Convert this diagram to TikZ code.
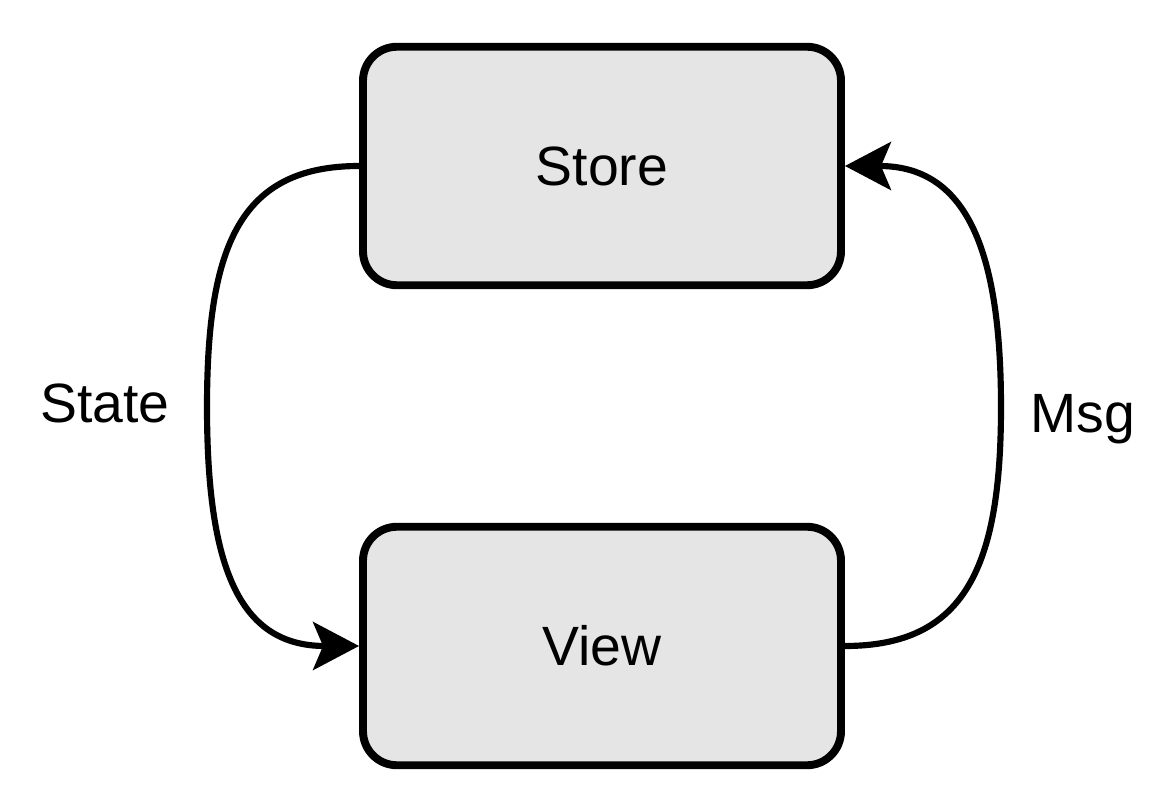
\documentclass[tikz,border=0pt]{standalone}
\usepackage{fontspec}
\setmainfont{Liberation Sans}
\usetikzlibrary{arrows.meta, positioning}

\begin{document}
\begin{tikzpicture}[
    blocco/.style = {draw, line width = 4.5pt, fill = black!10, rounded corners = 0.68cm, minimum width = 9.56cm, minimum height = 4.77cm, font = \fontsize{31.5}{38}\selectfont},
    flusso/.style = {line width = 3.5pt, -{Stealth[length = 0.92cm, width = 0.96cm, inset = 0.2cm]}},
    etichetta/.style = {font = \fontsize{31.5}{38}\selectfont, anchor = base}
]
    % Margini
    \useasboundingbox (0,0) rectangle (23.52,16.16);
    % Blocchi
    \node[blocco] (store) at (12.04,12.84) {Store};
    \node[blocco] (view) at (12.04,3.24) {View};
    % Punti di mezzo delle curve
    \coordinate (stateMid) at (4.14,8.02);
    \coordinate (msgMid) at (20.02,8.02);
    % Etichette
    \node[etichetta] (state) at (2.1,7.7) {State};
    \node[etichetta] (msg) at (21.65,7.5) {Msg};
    % Frecce
    \draw[flusso] (store.west) .. controls +(-2.4,0) and +(0,3.2) .. (stateMid) .. controls +(0,-3.2) and +(-2.4,0) .. (view.west);
    \draw[flusso] (view.east) .. controls +(2.4,0) and +(0,-3.2) .. (msgMid) .. controls +(0,3.2) and +(2.4,0) .. (store.east);
\end{tikzpicture}
\end{document}
